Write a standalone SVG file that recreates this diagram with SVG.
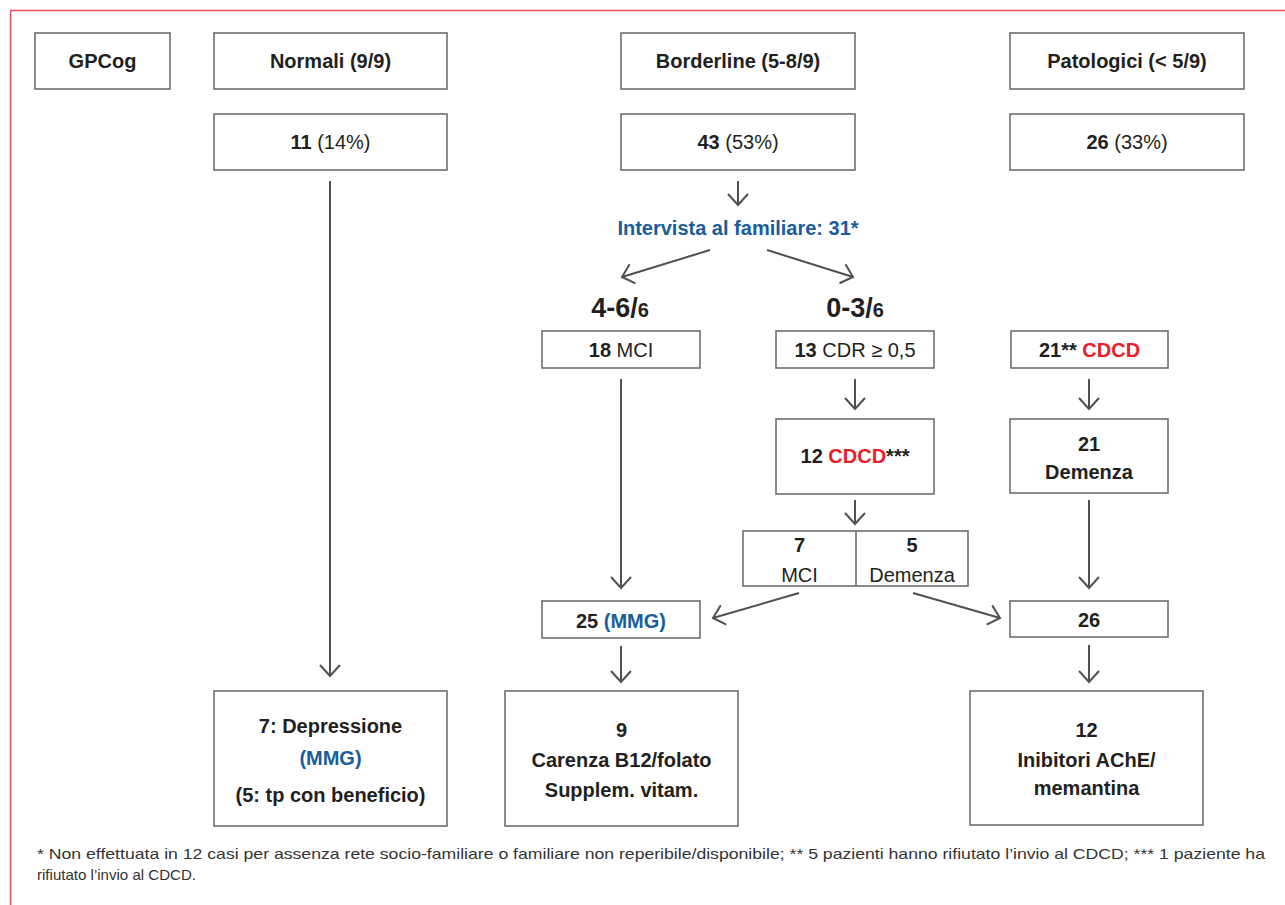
<svg xmlns="http://www.w3.org/2000/svg" width="1285" height="905" viewBox="0 0 1285 905">
<style>
.box{fill:#fff;stroke:#6d6e70;stroke-width:1.6}
.t{font-family:"Liberation Sans",Arial,sans-serif;font-size:20px;fill:#231f20;text-anchor:middle}
.b{font-weight:bold}
.n{font-weight:normal}
.blue{fill:#1a5d9c}
.red{fill:#e8202a}
.c{fill:none;stroke:#505050;stroke-width:2;marker-end:url(#ah)}
.fn{font-family:"Liberation Sans",Arial,sans-serif;font-size:15px;fill:#333}
</style>
<defs>
<marker id="ah" markerUnits="userSpaceOnUse" viewBox="-14 -12 16 24" markerWidth="16" markerHeight="24" refX="0" refY="0" orient="auto">
<path d="M-11,-10 L0,0 L-11,10" fill="none" stroke="#505050" stroke-width="2"/>
</marker>
</defs>
<rect width="1285" height="905" fill="#fff"/>
<path d="M10.5,905 V10.5 H1285" fill="none" stroke="#e8505b" stroke-width="1.5"/>

<g id="gpcog"><rect class="box" x="35" y="33" width="135" height="56"/><text class="t b" x="102.5" y="68">GPCog</text></g>
<g id="normali"><rect class="box" x="214" y="33" width="233" height="56"/><text class="t b" x="330.5" y="68">Normali (9/9)</text></g>
<g id="borderline"><rect class="box" x="621" y="33" width="234" height="56"/><text class="t b" x="738" y="68">Borderline (5-8/9)</text></g>
<g id="patologici"><rect class="box" x="1010" y="33" width="234" height="56"/><text class="t b" x="1127" y="68">Patologici (&lt; 5/9)</text></g>

<g id="n11"><rect class="box" x="214" y="114" width="233" height="56"/><text class="t" x="330.5" y="149"><tspan class="b">11</tspan> (14%)</text></g>
<g id="n43"><rect class="box" x="621" y="114" width="234" height="56"/><text class="t" x="738" y="149"><tspan class="b">43</tspan> (53%)</text></g>
<g id="n26a"><rect class="box" x="1010" y="114" width="234" height="56"/><text class="t" x="1127" y="149"><tspan class="b">26</tspan> (33%)</text></g>

<g id="intervista"><text class="t b blue" x="738" y="235">Intervista al familiare: 31*</text></g>
<g id="lbl46"><text class="t b" x="620" y="317" style="font-size:27px">4-6/<tspan style="font-size:20px">6</tspan></text></g>
<g id="lbl03"><text class="t b" x="855" y="317" style="font-size:27px">0-3/<tspan style="font-size:20px">6</tspan></text></g>

<g id="n18"><rect class="box" x="542" y="331" width="158" height="37"/><text class="t" x="621" y="357"><tspan class="b">18</tspan> MCI</text></g>
<g id="n13"><rect class="box" x="776" y="331" width="158" height="37"/><text class="t" x="855" y="357"><tspan class="b">13</tspan> CDR ≥ 0,5</text></g>
<g id="n21cdcd"><rect class="box" x="1011" y="331" width="157" height="37"/><text class="t b" x="1089.5" y="357">21** <tspan class="red">CDCD</tspan></text></g>

<g id="n12cdcd"><rect class="box" x="776" y="419" width="158" height="75"/><text class="t b" x="855" y="463">12 <tspan class="red">CDCD</tspan>***</text></g>
<g id="n21dem"><rect class="box" x="1010" y="419" width="158" height="74"/><text class="t b" x="1089" y="451">21</text><text class="t b" x="1089" y="479">Demenza</text></g>

<g id="split"><rect class="box" x="743" y="531" width="225" height="55"/><line x1="856" y1="531" x2="856" y2="586" stroke="#6d6e70" stroke-width="1.6"/>
<text class="t b" x="799.5" y="552">7</text><text class="t" x="799.5" y="582">MCI</text>
<text class="t b" x="912" y="552">5</text><text class="t" x="912" y="582">Demenza</text></g>

<g id="n25"><rect class="box" x="542" y="601" width="158" height="37"/><text class="t b" x="621" y="628">25 <tspan class="blue">(MMG)</tspan></text></g>
<g id="n26b"><rect class="box" x="1010" y="601" width="158" height="36"/><text class="t b" x="1089" y="627">26</text></g>

<g id="depressione"><rect class="box" x="214" y="691" width="233" height="135"/><text class="t b" x="330.5" y="733">7: Depressione</text><text class="t b blue" x="330.5" y="765">(MMG)</text><text class="t b" x="330.5" y="802">(5: tp con beneficio)</text></g>
<g id="carenza"><rect class="box" x="505" y="691" width="233" height="135"/><text class="t b" x="621.5" y="737">9</text><text class="t b" x="621.5" y="767">Carenza B12/folato</text><text class="t b" x="621.5" y="797">Supplem. vitam.</text></g>
<g id="inibitori"><rect class="box" x="970" y="691" width="233" height="134"/><text class="t b" x="1086.5" y="737">12</text><text class="t b" x="1086.5" y="767">Inibitori AChE/</text><text class="t b" x="1086.5" y="795">memantina</text></g>

<g id="connectors">
<line class="c" x1="330" y1="181" x2="330" y2="676"/>
<line class="c" x1="738" y1="181" x2="738" y2="205"/>
<line class="c" x1="710" y1="250" x2="622" y2="277"/>
<line class="c" x1="767" y1="250" x2="853" y2="277"/>
<line class="c" x1="621" y1="379" x2="621" y2="588"/>
<line class="c" x1="855" y1="379" x2="855" y2="409"/>
<line class="c" x1="1089" y1="379" x2="1089" y2="409"/>
<line class="c" x1="855" y1="500" x2="855" y2="524"/>
<line class="c" x1="799" y1="593" x2="713" y2="618"/>
<line class="c" x1="913" y1="593" x2="1000" y2="618"/>
<line class="c" x1="1089" y1="500" x2="1089" y2="588"/>
<line class="c" x1="621" y1="646" x2="621" y2="682"/>
<line class="c" x1="1089" y1="645" x2="1089" y2="682"/>
</g>

<g id="footnote">
<text class="fn" x="37" y="859" textLength="1228" lengthAdjust="spacingAndGlyphs">* Non effettuata in 12 casi per assenza rete socio-familiare o familiare non reperibile/disponibile; ** 5 pazienti hanno rifiutato l’invio al CDCD; *** 1 paziente ha</text>
<text class="fn" x="37" y="880" textLength="159" lengthAdjust="spacingAndGlyphs">rifiutato l’invio al CDCD.</text>
</g>
</svg>
